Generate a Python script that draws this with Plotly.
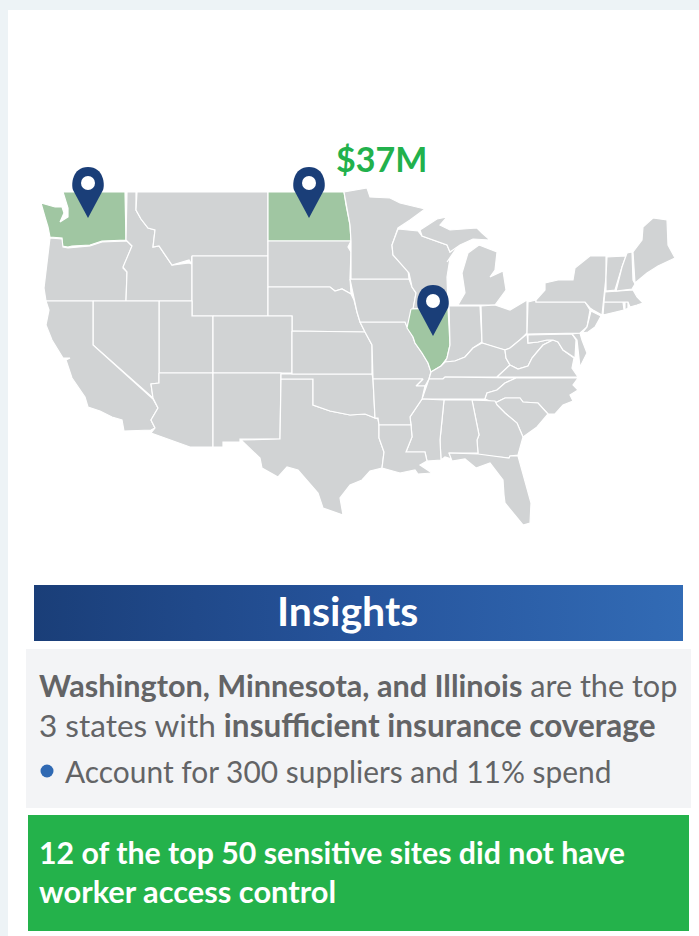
import plotly.graph_objects as go

# ---- Text ----
money_label = "$37M"
banner_title = "Insights"
insight_line_1 = "<b>Washington, Minnesota, and Illinois</b> are the top"
insight_line_2 = "3 states with <b>insufficient insurance coverage</b>"
insight_line_3 = "Account for 300 suppliers and 11% spend"
callout_line_1 = "<b>12 of the top 50 sensitive sites did not have</b>"
callout_line_2 = "<b>worker access control</b>"

# ---- Highlighted states and pins ----
highlighted = ["WA", "ND", "IL"]
pin_tip_x = [88, 309, 433]
pin_tip_y = [218, 218, 336]

# ---- State outlines (x, y on the 699x936 frame) ----
WA = [(41,203),(55,207),(62,207),(64,213),(60,222),(68,217),(68,208),(63,192),(125,192),(126,240),(102,241),(90,245),(72,246),(68,247),(62,246),(62,238),(50,237),(48,227),(45,217)]
OR = [(50,238),(62,239),(63,247),(68,248),(90,246),(102,242),(127,241),(132,246),(123,268),(127,272),(126,301),(46,301),(44,288),(46,270)]
ID = [(127,192),(136,192),(136,210),(141,219),(148,228),(155,230),(153,247),(159,246),(165,255),(172,265),(189,263),(192,264),(192,301),(126,301),(127,272),(123,267),(132,246),(126,240)]
MT = [(137,192),(268,192),(268,256),(192,256),(191,264),(189,260),(172,265),(165,255),(159,246),(153,247),(155,230),(148,228),(141,219),(136,210)]
WY = [(192,256),(268,256),(268,316),(192,316)]
ND = [(268,192),(344,192),(346,205),(350,225),(351,241),(268,241)]
SD = [(268,241),(351,241),(348,247),(351,252),(350,278),(351,294),(342,289),(335,291),(330,287),(268,287)]
NE = [(268,287),(330,287),(335,291),(342,289),(351,294),(354,300),(357,312),(360,322),(365,332),(292,331),(292,316),(268,316)]
UT = [(159,301),(192,301),(192,316),(213,316),(213,373),(159,373)]
CO = [(213,316),(292,316),(292,373),(213,373)]
NV = [(93,301),(159,301),(159,383),(151,384),(153,398),(93,345)]
CA = [(46,301),(93,301),(93,345),(153,399),(158,408),(151,420),(155,428),(151,430),(124,431),(122,420),(112,417),(100,411),(88,407),(85,397),(72,378),(66,360),(70,358),(63,358),(52,340),(46,325),(49,310)]
AZ = [(159,373),(213,373),(213,447),(190,447),(151,433),(155,428),(151,420),(158,408),(153,398),(151,384),(159,383)]
NM = [(213,373),(281,373),(280,439),(240,439),(240,442),(223,442),(223,447),(213,447)]
TX = [(281,379),(313,379),(313,405),(330,411),(350,415),(365,414),(378,419),(379,425),(379,438),(384,452),(382,468),(370,471),(362,480),(350,485),(340,498),(343,515),(323,508),(318,493),(298,470),(287,467),(278,477),(262,468),(260,458),(241,440),(280,439)]
OK = [(281,374),(372,374),(373,379),(375,418),(365,414),(350,415),(330,411),(313,405),(313,379),(281,379)]
KS = [(292,331),(365,332),(372,345),(372,374),(292,374)]
MO = [(360,322),(405,322),(408,328),(413,337),(415,343),(422,353),(428,363),(431,372),(429,379),(425,386),(416,386),(423,379),(373,379),(372,345),(365,332)]
IA = [(350,279),(409,279),(412,287),(416,293),(413,310),(407,327),(405,322),(360,322),(357,312),(352,290)]
MN = [(344,192),(367,188),(370,197),(390,198),(400,203),(425,209),(410,220),(398,228),(392,245),(393,255),(408,270),(409,279),(351,279),(351,241),(350,225),(346,205)]
WI = [(398,229),(418,231),(422,236),(447,245),(450,252),(460,243),(447,262),(450,258),(447,277),(448,305),(413,309),(416,293),(412,287),(409,273),(393,255),(392,245)]
MI_UP = [(420,230),(437,219),(447,217),(440,225),(450,230),(477,228),(482,233),(490,240),(473,239),(460,245),(450,252),(447,245),(422,236)]
MI_LOW = [(479,245),(497,252),(495,270),(490,277),(503,271),(506,290),(495,305),(458,305),(465,293),(462,273),(468,253)]
IL = [(411,309),(448,308),(450,345),(447,358),(441,366),(431,372),(428,363),(422,353),(415,343),(413,337),(407,328)]
IN = [(449,306),(480,306),(482,342),(473,348),(465,357),(455,361),(445,362),(447,358),(450,345)]
OH = [(481,306),(495,305),(510,310),(527,300),(527,333),(520,340),(510,348),(505,350),(497,348),(482,343)]
KY = [(445,362),(455,361),(465,357),(473,348),(482,343),(497,348),(505,350),(506,358),(510,365),(497,377),(445,377),(443,379),(429,379),(431,372),(441,366)]
WV = [(510,348),(520,340),(527,334),(528,343),(538,342),(547,340),(553,340),(543,345),(537,352),(532,358),(528,366),(518,369),(510,365),(506,358),(505,350)]
VA = [(510,365),(518,369),(528,366),(532,358),(537,352),(543,345),(553,340),(558,342),(563,350),(574,358),(572,368),(578,377),(497,377)]
MD = [(528,335),(572,334),(576,340),(575,358),(563,350),(558,342),(553,340),(547,340),(538,342),(528,343)]
DE = [(572,334),(580,333),(582,340),(587,353),(580,367),(578,352),(577,340)]
TN = [(429,379),(443,379),(445,377),(516,378),(505,383),(497,390),(487,393),(485,399),(422,399)]
NC = [(516,378),(578,378),(573,385),(578,390),(570,395),(573,401),(563,405),(555,414),(548,414),(538,403),(523,402),(520,398),(505,398),(495,403),(485,399),(487,393),(497,390),(505,383)]
SC = [(505,398),(520,398),(523,402),(538,403),(548,414),(537,427),(523,437),(517,423),(505,413),(497,405),(495,403)]
GA = [(472,400),(495,401),(497,405),(505,413),(517,423),(523,437),(518,455),(510,456),(509,458),(478,455),(477,440),(479,435)]
AL = [(444,400),(472,400),(479,435),(477,440),(478,453),(449,453),(452,459),(445,457),(441,460),(440,440)]
MS = [(422,399),(444,400),(440,440),(441,460),(427,461),(425,452),(406,452),(412,437),(411,425),(410,417)]
AR = [(373,379),(423,379),(416,386),(425,386),(422,399),(410,417),(411,425),(379,425),(378,418),(375,418)]
LA = [(379,425),(411,425),(412,437),(406,452),(425,452),(427,461),(420,465),(432,473),(418,474),(415,470),(400,473),(383,468),(382,468),(384,452),(379,438)]
FL = [(449,453),(478,454),(509,458),(510,456),(518,456),(531,503),(530,523),(523,525),(505,503),(504,495),(503,480),(490,463),(476,468),(465,459),(452,461)]
PA = [(528,302),(536,300),(536,302),(585,302),(590,310),(587,327),(580,333),(527,334)]
NY = [(536,300),(545,290),(545,283),(558,280),(573,280),(575,268),(590,256),(606,256),(606,277),(603,302),(602,315),(593,310),(590,308),(585,302),(536,302)]
NJ = [(591,311),(601,316),(595,327),(588,332),(582,333),(587,327)]
CT = [(604,302),(623,302),(624,310),(603,315)]
RI = [(625,302),(628,302),(628,308),(625,310)]
MA = [(605,292),(633,290),(637,297),(643,303),(637,305),(630,307),(628,302),(604,302)]
VT = [(607,257),(626,256),(622,267),(615,290),(606,291),(606,277)]
NH = [(627,253),(632,252),(633,280),(635,284),(632,289),(616,291),(622,267)]
ME = [(633,252),(642,240),(643,227),(653,218),(667,220),(668,245),(675,258),(658,266),(647,273),(635,283)]

states = {
    "WA": WA, "OR": OR, "ID": ID, "MT": MT, "WY": WY, "ND": ND, "SD": SD, "NE": NE, "UT": UT, "CO": CO,
    "NV": NV, "CA": CA, "AZ": AZ, "NM": NM, "TX": TX, "OK": OK, "KS": KS, "MO": MO, "IA": IA, "MN": MN,
    "WI": WI, "MI_UP": MI_UP, "MI_LOW": MI_LOW, "IL": IL, "IN": IN, "OH": OH, "KY": KY, "WV": WV, "VA": VA,
    "MD": MD, "DE": DE, "TN": TN, "NC": NC, "SC": SC, "GA": GA, "AL": AL, "MS": MS, "AR": AR, "LA": LA,
    "FL": FL, "PA": PA, "NY": NY, "NJ": NJ, "CT": CT, "RI": RI, "MA": MA, "VT": VT, "NH": NH, "ME": ME,
}

GREY, PALE_GREEN, NAVY, GREEN = "#d1d3d4", "#a0c6a2", "#1a3e78", "#24b24b"
FONT = "Lato"
W, H = 699, 936

fig = go.Figure()

for name, pts in states.items():
    xs = [p[0] for p in pts] + [pts[0][0]]
    ys = [p[1] for p in pts] + [pts[0][1]]
    fig.add_trace(go.Scatter(x=xs, y=ys, mode="lines", fill="toself", name=name,
                             fillcolor=PALE_GREEN if name in highlighted else GREY,
                             line=dict(color="white", width=1.2), hoverinfo="skip", showlegend=False))

# Banner with a left-to-right gradient
fig.add_trace(go.Scatter(x=[34, 683, 683, 34, 34], y=[585, 585, 641, 641, 585], mode="lines", fill="toself",
                         line=dict(width=0, color="rgba(0,0,0,0)"),
                         fillgradient=dict(type="horizontal", colorscale=[[0, "#1a3e78"], [0.5, "#26549c"], [1, "#326bb5"]]),
                         hoverinfo="skip", showlegend=False))
# Bullet
fig.add_trace(go.Scatter(x=[47], y=[771], mode="markers", marker=dict(size=13, color="#2f69b3"),
                         hoverinfo="skip", showlegend=False))

shapes = [
    dict(type="rect", x0=0, x1=W, y0=0, y1=H, fillcolor="#edf3f6", line_width=0, layer="below"),
    dict(type="rect", x0=8, x1=W, y0=10, y1=H, fillcolor="white", line_width=0, layer="below"),
    dict(type="rect", x0=26, x1=691, y0=649, y1=808, fillcolor="#f3f4f6", line_width=0, layer="below"),
    dict(type="rect", x0=28, x1=689, y0=815, y1=931, fillcolor=GREEN, line_width=0, layer="below"),
]
R = 16
for tx, ty in zip(pin_tip_x, pin_tip_y):
    cy = ty - 35
    path = (f"M {tx} {ty} L {tx-R+1} {cy+7} C {tx-R-1} {cy+2} {tx-R} {cy-R} {tx} {cy-R} "
            f"C {tx+R} {cy-R} {tx+R+1} {cy+2} {tx+R-1} {cy+7} Z")
    shapes.append(dict(type="path", path=path, fillcolor=NAVY, line_width=0, layer="above"))
    shapes.append(dict(type="circle", x0=tx-7, x1=tx+7, y0=cy-7, y1=cy+7, fillcolor="white", line_width=0, layer="above"))

def label(x, y, text, size, color, anchor="left"):
    return dict(x=x, y=y, text=text, showarrow=False, xanchor=anchor, yanchor="middle", align=anchor,
                font=dict(family=FONT, size=size, color=color), xref="x", yref="y")

annotations = [
    label(334, 158.5, f"<b>{money_label}</b>", 34, "#22b14c"),
    label(347, 610, f"<b>{banner_title}</b>", 41, "white", "center"),
    label(37, 685, insight_line_1, 30.6, "#636466"),
    label(37, 725, insight_line_2, 31.5, "#636466"),
    label(63, 770.5, insight_line_3, 29.9, "#636466"),
    label(37, 852, callout_line_1, 30.3, "white"),
    label(37, 891, callout_line_2, 30.8, "white"),
]

fig.update_layout(
    width=W, height=H, autosize=False, margin=dict(l=0, r=0, t=0, b=0),
    paper_bgcolor="white", plot_bgcolor="rgba(0,0,0,0)", showlegend=False,
    xaxis=dict(range=[0, W], visible=False, fixedrange=True),
    yaxis=dict(range=[H, 0], visible=False, fixedrange=True),
    shapes=shapes, annotations=annotations,
)
fig.write_html("out.html", config={"displayModeBar": False},
               post_script="document.body.style.margin='0';document.body.style.overflow='hidden';")
